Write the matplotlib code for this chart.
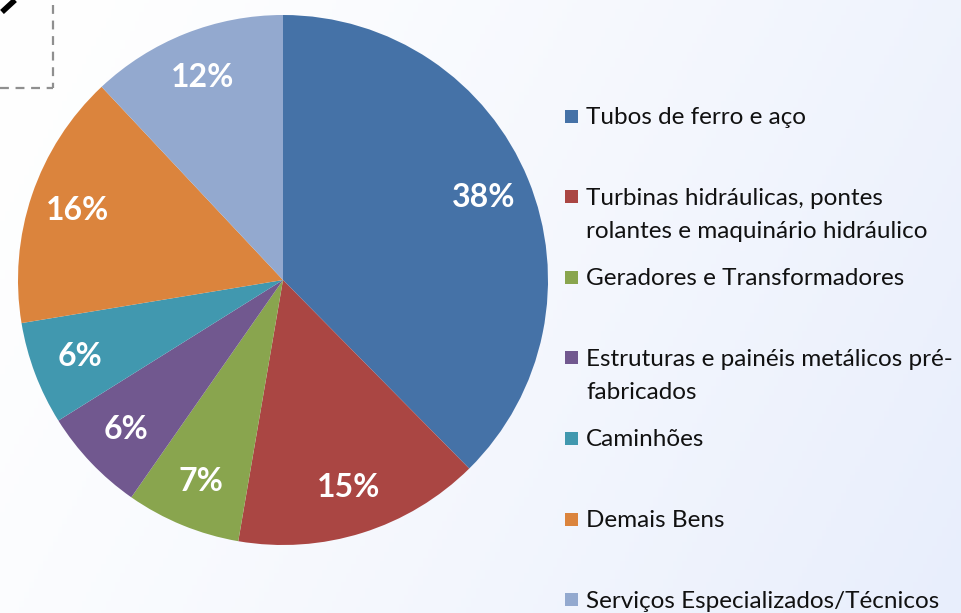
import numpy as np
import matplotlib
matplotlib.use("Agg")
import matplotlib.pyplot as plt
from matplotlib.patches import Rectangle
from matplotlib.lines import Line2D

categories = [
    "Tubos de ferro e aço",
    "Turbinas hidráulicas, pontes\nrolantes e maquinário hidráulico",
    "Geradores e Transformadores",
    "Estruturas e painéis metálicos pré-\nfabricados",
    "Caminhões",
    "Demais Bens",
    "Serviços Especializados/Técnicos",
]
values = [37.6, 15.1, 7.0, 6.4, 6.3, 15.6, 12.0]
colors = ["#4572A7", "#AA4643", "#89A54E", "#71588F", "#4198AF", "#DB843D", "#93A9CF"]

W, H = 961, 613
fig = plt.figure(figsize=(W / 100, H / 100), dpi=100)

# background gradient
bg = fig.add_axes([0, 0, 1, 1], zorder=0)
xx, yy = np.meshgrid(np.linspace(0, 1, 200), np.linspace(0, 1, 200))
t = np.clip(0.75 * xx + 0.25 * yy, 0, 1) ** 1.3
c0 = np.array([1.0, 1.0, 1.0])
c1 = np.array([0xE8, 0xEE, 0xFC]) / 255.0
img = c0[None, None, :] * (1 - t[..., None]) + c1[None, None, :] * t[..., None]
bg.imshow(img, extent=[0, W, H, 0], aspect="auto")
bg.set_xlim(0, W)
bg.set_ylim(H, 0)
bg.axis("off")

# dashed box fragment and mark at top-left
bg.add_line(Line2D([53, 53], [5, 88], color="#8f8f8f", lw=1.6, ls=(0, (4, 3))))
bg.add_line(Line2D([0, 53], [88, 88], color="#8f8f8f", lw=1.6, ls=(0, (4, 3))))
bg.add_line(Line2D([2, 15], [12, 0], color="black", lw=4.0, solid_capstyle="butt"))

# pie
cx, cy, R = 283, 280, 265
ax = fig.add_axes([(cx - R) / W, (H - cy - R) / H, 2 * R / W, 2 * R / H], zorder=1)
wedges, texts, autotexts = ax.pie(
    values, colors=colors, startangle=90, counterclock=False,
    autopct="%.0f%%", pctdistance=0.82, radius=1.0,
    wedgeprops=dict(linewidth=0),
    textprops=dict(color="white", fontsize=23, fontweight="bold", family=["Lato", "DejaVu Sans"]),
)
ax.set_xlim(-1, 1)
ax.set_ylim(-1, 1)
ax.set_aspect("equal")
ax.axis("off")

# legend (manual)
y0, dy = 116, 80.6
for i, (lab, col) in enumerate(zip(categories, colors)):
    y = y0 + i * dy
    bg.add_patch(Rectangle((565, y - 6.5), 13, 13, facecolor=col, edgecolor="none"))
    bg.text(586, y - 9, lab, fontsize=17.5, family=["Lato", "DejaVu Sans"], color="#111111",
            va="top", ha="left", linespacing=1.72)

fig.savefig("out.png", dpi=100)
